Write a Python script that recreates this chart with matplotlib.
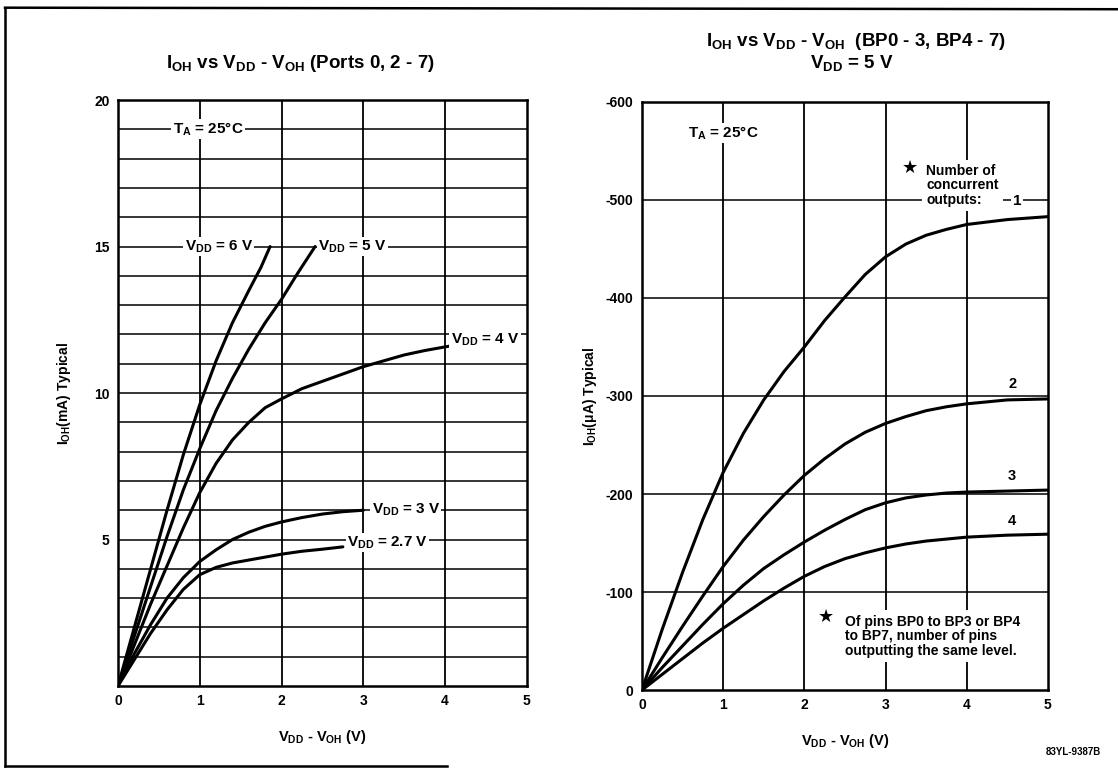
import matplotlib
matplotlib.use("Agg")
import matplotlib.pyplot as plt
from matplotlib.lines import Line2D

plt.rcParams['font.family'] = ['Liberation Sans', 'DejaVu Sans']
plt.rcParams['font.weight'] = 'bold'
plt.rcParams['mathtext.fontset'] = 'custom'
plt.rcParams['mathtext.rm'] = 'Liberation Sans:bold'
plt.rcParams['mathtext.it'] = 'Liberation Sans:bold'
plt.rcParams['mathtext.bf'] = 'Liberation Sans:bold'
plt.rcParams['axes.unicode_minus'] = False

# ---------------- Left chart data (I_OH mA vs VDD-VOH V) ----------------
v6_x = [0, 0.2, 0.4, 0.6, 0.8, 1.0, 1.2, 1.4, 1.6, 1.75, 1.86]
v6_y = [0, 2.0, 4.0, 6.0, 7.9, 9.6, 11.1, 12.4, 13.5, 14.3, 15.0]
v5_x = [0, 0.2, 0.4, 0.6, 0.8, 1.0, 1.2, 1.4, 1.6, 1.8, 2.0, 2.2, 2.41]
v5_y = [0, 1.7, 3.4, 5.1, 6.7, 8.1, 9.4, 10.5, 11.5, 12.4, 13.2, 14.1, 15.0]
v4_x = [0, 0.2, 0.4, 0.6, 0.8, 1.0, 1.2, 1.4, 1.6, 1.8, 2.0, 2.25, 2.5, 2.75, 3.0, 3.25, 3.5, 3.75, 4.05]
v4_y = [0, 1.4, 2.8, 4.1, 5.4, 6.6, 7.6, 8.4, 9.0, 9.5, 9.8, 10.15, 10.4, 10.65, 10.9, 11.1, 11.3, 11.45, 11.6]
v3_x = [0, 0.2, 0.4, 0.6, 0.8, 1.0, 1.2, 1.4, 1.6, 1.8, 2.0, 2.25, 2.5, 2.75, 3.0]
v3_y = [0, 1.1, 2.1, 3.0, 3.7, 4.25, 4.65, 5.0, 5.25, 5.45, 5.6, 5.75, 5.87, 5.95, 6.0]
v27_x = [0, 0.2, 0.4, 0.6, 0.8, 1.0, 1.2, 1.4, 1.6, 1.8, 2.0, 2.25, 2.5, 2.75]
v27_y = [0, 0.9, 1.8, 2.6, 3.3, 3.8, 4.05, 4.2, 4.3, 4.4, 4.5, 4.6, 4.67, 4.75]
left_series = [(v6_x, v6_y), (v5_x, v5_y), (v4_x, v4_y), (v3_x, v3_y), (v27_x, v27_y)]

# ---------------- Right chart data (I_OH uA vs VDD-VOH V) ----------------
r_x = [0, 0.25, 0.5, 0.75, 1.0, 1.25, 1.5, 1.75, 2.0, 2.25, 2.5, 2.75, 3.0, 3.25, 3.5, 3.75, 4.0, 4.5, 5.0]
out1 = [0, -62, -120, -174, -222, -262, -296, -325, -350, -377, -401, -424, -442, -455, -464, -470, -475, -480, -483]
out2 = [0, -33, -65, -96, -126, -153, -177, -199, -219, -236, -251, -263, -272, -279, -285, -289, -292, -296, -297]
out3 = [0, -23, -45, -67, -88, -107, -124, -138, -151, -163, -174, -184, -191, -196, -199, -201, -202, -203, -204]
out4 = [0, -16, -32, -48, -63, -77, -91, -104, -116, -126, -134, -140, -145, -149, -152, -154, -156, -158, -159]
right_series = [out1, out2, out3, out4]
right_labels = ['1', '2', '3', '4']

fig = plt.figure(figsize=(11.18, 7.69), dpi=100)

def style(ax):
    for s in ax.spines.values():
        s.set_linewidth(1.8)
        s.set_color('black')
    ax.tick_params(length=0, labelsize=10, pad=6)
    for lab in ax.get_xticklabels() + ax.get_yticklabels():
        lab.set_fontweight('bold')

W = dict(facecolor='white', edgecolor='none', pad=1.0)

# ---------------- Left ----------------
axL = fig.add_axes([0.1055, 0.1079, 0.3658, 0.762])
axL.set_xlim(0, 5)
axL.set_ylim(0, 20)
for x in range(1, 5):
    axL.axvline(x, color='black', lw=1.3, zorder=1)
for y in range(1, 20):
    axL.axhline(y, color='black', lw=1.1, zorder=1)
for xs, ys in left_series:
    axL.plot(xs, ys, color='black', lw=2.2, zorder=3, solid_capstyle='round')
axL.set_xticks([0, 1, 2, 3, 4, 5])
axL.set_yticks([5, 10, 15, 20])
style(axL)
tk = dict(fontsize=11, fontweight='bold', zorder=4, bbox=W)
axL.text(1.1, 19, r'$\mathregular{T_A}$ = 25°C', ha='center', va='center', **tk)
axL.text(1.65, 15, r'$\mathregular{V_{DD}}$ = 6 V', ha='right', va='center', **tk)
axL.text(2.45, 15, r'$\mathregular{V_{DD}}$ = 5 V', ha='left', va='center', **tk)
axL.text(4.07, 11.8, r'$\mathregular{V_{DD}}$ = 4 V', ha='left', va='center', **tk)
axL.text(3.1, 6.0, r'$\mathregular{V_{DD}}$ = 3 V', ha='left', va='center', **tk)
axL.text(2.8, 4.9, r'$\mathregular{V_{DD}}$ = 2.7 V', ha='left', va='center', **tk)
axL.set_ylabel(r'$\mathregular{I_{OH}}$(mA) Typical', fontsize=10, fontweight='bold', labelpad=15)
axL.set_xlabel(r'$\mathregular{V_{DD}}$ - $\mathregular{V_{OH}}$ (V)', fontsize=10.5, fontweight='bold', labelpad=14)

# ---------------- Right ----------------
axR = fig.add_axes([0.5742, 0.1027, 0.3631, 0.7647])
axR.set_xlim(0, 5)
axR.set_ylim(0, -600)
for x in range(1, 5):
    axR.axvline(x, color='black', lw=1.3, zorder=1)
for y in range(-500, 0, 100):
    axR.axhline(y, color='black', lw=1.1, zorder=1)
for ys in right_series:
    axR.plot(r_x, ys, color='black', lw=2.2, zorder=3)
axR.set_xticks([0, 1, 2, 3, 4, 5])
axR.set_yticks([-600, -500, -400, -300, -200, -100, 0])
style(axR)
axR.text(1.0, -568, r'$\mathregular{T_A}$ = 25°C', ha='center', va='center', **tk)
axR.text(3.3, -533, '\u2605', ha='center', va='center', fontsize=13, zorder=4,
         family=['DejaVu Sans'])
axR.text(3.5, -515, 'Number of\nconcurrent\noutputs:', ha='left', va='center',
         fontsize=10, fontweight='bold', linespacing=1.05, zorder=4,
         bbox=dict(facecolor='white', edgecolor='none', pad=3))
axR.text(4.62, -499, right_labels[0], ha='center', va='center', **tk)
axR.text(4.56, -312, right_labels[1], ha='center', va='center', fontsize=10.5, fontweight='bold')
axR.text(4.56, -218, right_labels[2], ha='center', va='center', fontsize=10.5, fontweight='bold')
axR.text(4.56, -172, right_labels[3], ha='center', va='center', fontsize=10.5, fontweight='bold')
axR.text(2.27, -75, '\u2605', ha='center', va='center', fontsize=13, zorder=4,
         family=['DejaVu Sans'])
axR.text(2.5, -55, 'Of pins BP0 to BP3 or BP4\nto BP7, number of pins\noutputting the same level.',
         ha='left', va='center', fontsize=10, fontweight='bold', linespacing=1.05, zorder=4,
         bbox=dict(facecolor='white', edgecolor='none', pad=3))
axR.set_ylabel(r'$\mathregular{I_{OH}}$($\mathregular{\mu}$A) Typical', fontsize=10, fontweight='bold', labelpad=5)
axR.set_xlabel(r'$\mathregular{V_{DD}}$ - $\mathregular{V_{OH}}$ (V)', fontsize=10.5, fontweight='bold', labelpad=14)

# ---------------- Titles ----------------
fig.text(0.269, 0.918, r'$\mathregular{I_{OH}}$ vs $\mathregular{V_{DD}}$ - $\mathregular{V_{OH}}$ (Ports 0, 2 - 7)',
         ha='center', va='center', fontsize=13.5, fontweight='bold')
fig.text(0.766, 0.946, r'$\mathregular{I_{OH}}$ vs $\mathregular{V_{DD}}$ - $\mathregular{V_{OH}}$  (BP0 - 3, BP4 - 7)',
         ha='center', va='center', fontsize=13.5, fontweight='bold')
fig.text(0.762, 0.918, r'$\mathregular{V_{DD}}$ = 5 V', ha='center', va='center', fontsize=13.5, fontweight='bold')
fig.text(0.985, 0.022, '83YL-9387B', ha='right', va='center', fontsize=7, fontweight='bold')

# frame
fig.add_artist(Line2D([0.0045, 1.0], [0.990, 0.988], transform=fig.transFigure, color='black', lw=1.8))
fig.add_artist(Line2D([0.0045, 0.0045], [0.990, 0.004], transform=fig.transFigure, color='black', lw=1.8))
fig.add_artist(Line2D([0.0045, 0.40], [0.004, 0.004], transform=fig.transFigure, color='black', lw=1.8))

fig.savefig('out.png', dpi=100, facecolor='white')
